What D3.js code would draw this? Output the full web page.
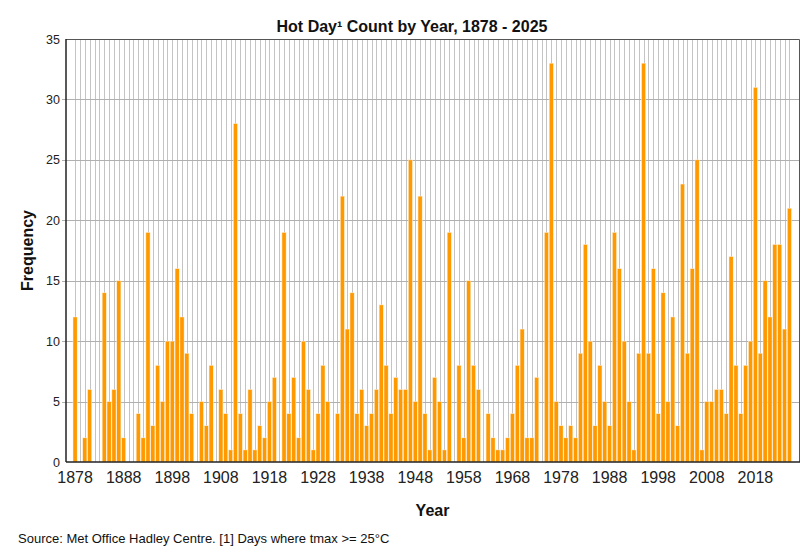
<!DOCTYPE html>
<html lang="en">
<head>
    <meta charset="UTF-8">
    <title>Hot Day Count by Year</title>
    <script src="https://d3js.org/d3.v7.min.js"></script>
    <style>
        body { margin: 0; background: #fff; }
        text { font-family: "Liberation Sans", Arial, sans-serif; }
    </style>
</head>
<body>
<div id="my_dataviz"></div>
<script>

    // years 1878 - 2025
    var years = d3.range(1878, 2026);

    // hot day counts, one per year
    var counts = [
        12, 0, 2, 6, 0, 0, 14, 5, 6, 15,
        2, 0, 0, 4, 2, 19, 3, 8, 5, 10,
        10, 16, 12, 9, 4, 0, 5, 3, 8, 0,
        6, 4, 1, 28, 4, 1, 6, 1, 3, 2,
        5, 7, 0, 19, 4, 7, 2, 10, 6, 1,
        4, 8, 5, 0, 4, 22, 11, 14, 4, 6,
        3, 4, 6, 13, 8, 4, 7, 6, 6, 25,
        5, 22, 4, 1, 7, 5, 1, 19, 0, 8,
        2, 15, 8, 6, 0, 4, 2, 1, 1, 2,
        4, 8, 11, 2, 2, 7, 0, 19, 33, 5,
        3, 2, 3, 2, 9, 18, 10, 3, 8, 5,
        3, 19, 16, 10, 5, 1, 9, 33, 9, 16,
        4, 14, 5, 12, 3, 23, 9, 16, 25, 1,
        5, 5, 6, 6, 4, 17, 8, 4, 8, 10,
        31, 9, 15, 12, 18, 18, 11, 21
    ];

    var xTickYears = [1878, 1888, 1898, 1908, 1918, 1928, 1938, 1948, 1958, 1968, 1978, 1988, 1998, 2008, 2018];
    var yTicks = [0, 5, 10, 15, 20, 25, 30, 35];

    var data = years.map(function(y, i) { return {year: y, value: counts[i]}; });

    // set the dimensions and margins of the graph
    var margin = {top: 39, right: 11, bottom: 98, left: 66},
        width = 810 - margin.left - margin.right,
        height = 560 - margin.top - margin.bottom;

    var root = d3.select("#my_dataviz")
        .append("svg")
        .attr("width", 810)
        .attr("height", 560);

    var svg = root.append("g")
        .attr("transform", "translate(" + margin.left + "," + margin.top + ")");

    // X scale
    var x = d3.scaleBand()
        .range([7, width - 7.5])
        .domain(years)
        .paddingInner(0.14)
        .paddingOuter(0);

    // Y scale
    var y = d3.scaleLinear()
        .domain([0, 35])
        .range([height, 0]);

    // vertical grid, one line per year
    svg.append("g")
        .selectAll("line")
        .data(years)
        .enter()
        .append("line")
        .attr("x1", function(d) { return Math.round(x(d) + x.bandwidth() / 2) + 0.5; })
        .attr("x2", function(d) { return Math.round(x(d) + x.bandwidth() / 2) + 0.5; })
        .attr("y1", 0)
        .attr("y2", height)
        .attr("stroke", "#c4c4c4")
        .attr("stroke-width", 1);

    // horizontal grid
    svg.append("g")
        .selectAll("line")
        .data(yTicks.filter(function(d) { return d > 0 && d < 35; }))
        .enter()
        .append("line")
        .attr("x1", -4)
        .attr("x2", width)
        .attr("y1", function(d) { return Math.round(y(d)) + 0.5; })
        .attr("y2", function(d) { return Math.round(y(d)) + 0.5; })
        .attr("stroke", "#b0b0b0")
        .attr("stroke-width", 1);

    // bars
    svg.selectAll("rect.bar")
        .data(data.filter(function(d) { return d.value > 0; }))
        .enter()
        .append("rect")
        .attr("class", "bar")
        .attr("x", function(d) { return x(d.year); })
        .attr("y", function(d) { return y(d.value); })
        .attr("width", x.bandwidth())
        .attr("height", function(d) { return height - y(d.value); })
        .attr("fill", "#ff9900")
        .attr("stroke", "#fff3e0")
        .attr("stroke-width", 0.5);

    // frame: top and right
    svg.append("path")
        .attr("d", "M0,0.5H" + (width + 0.5) + "V" + height)
        .attr("fill", "none")
        .attr("stroke", "#555")
        .attr("stroke-width", 1);

    // X axis
    var xAxis = svg.append("g")
        .attr("transform", "translate(0," + height + ")")
        .call(d3.axisBottom(x).tickValues(xTickYears).tickSize(0).tickPadding(10));
    xAxis.select(".domain").attr("stroke", "#222").attr("stroke-width", 1.5)
        .attr("d", "M0,0H" + (width + 1));
    xAxis.selectAll("text")
        .attr("font-size", "16px")
        .attr("fill", "#222")
        .style("font-family", "'Liberation Sans', Arial, sans-serif");

    // Y axis
    var yAxis = svg.append("g")
        .call(d3.axisLeft(y).tickValues(yTicks).tickSize(0).tickPadding(6));
    yAxis.select(".domain").attr("stroke", "#222").attr("stroke-width", 1.5)
        .attr("d", "M0,0V" + height);
    yAxis.selectAll("text")
        .attr("font-size", "12.5px")
        .attr("fill", "#222")
        .style("font-family", "'Liberation Sans', Arial, sans-serif");

    // title
    root.append("text")
        .attr("x", 412)
        .attr("y", 32)
        .attr("text-anchor", "middle")
        .attr("font-size", "16px")
        .attr("font-weight", "bold")
        .attr("fill", "#111")
        .text("Hot Day\u00b9 Count by Year, 1878 - 2025");

    // axis titles
    root.append("text")
        .attr("x", margin.left + width / 2)
        .attr("y", 516)
        .attr("text-anchor", "middle")
        .attr("font-size", "16px")
        .attr("font-weight", "bold")
        .attr("fill", "#111")
        .text("Year");

    root.append("text")
        .attr("transform", "translate(33," + (margin.top + height / 2) + ") rotate(-90)")
        .attr("text-anchor", "middle")
        .attr("font-size", "16px")
        .attr("font-weight", "bold")
        .attr("fill", "#111")
        .text("Frequency");

    // source note
    root.append("text")
        .attr("x", 18)
        .attr("y", 543)
        .attr("font-size", "13px")
        .attr("fill", "#111")
        .text("Source: Met Office Hadley Centre. [1] Days where tmax >= 25\u00b0C");

</script>
</body>
</html>
